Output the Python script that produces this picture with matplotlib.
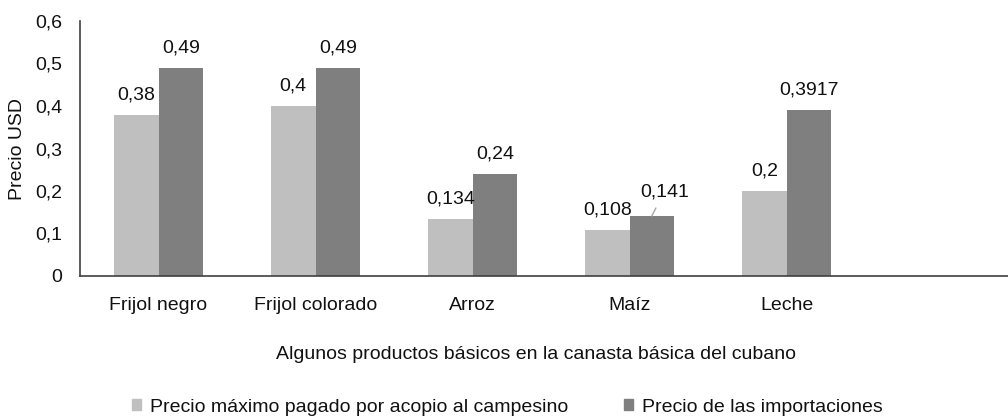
import matplotlib
matplotlib.use("Agg")
import matplotlib.pyplot as plt
import numpy as np
from matplotlib.patches import Patch

plt.rcParams['font.family'] = ['Liberation Sans', 'DejaVu Sans']

categories = ["Frijol negro", "Frijol colorado", "Arroz", "Maíz", "Leche", ""]
acopio = [0.38, 0.40, 0.134, 0.108, 0.20]
importaciones = [0.49, 0.49, 0.24, 0.141, 0.3917]
acopio_labels = ["0,38", "0,4", "0,134", "0,108", "0,2"]
import_labels = ["0,49", "0,49", "0,24", "0,141", "0,3917"]
yticks = [0, 0.1, 0.2, 0.3, 0.4, 0.5, 0.6]
ytick_labels = ["0", "0,1", "0,2", "0,3", "0,4", "0,5", "0,6"]
series_names = ["Precio máximo pagado por acopio al campesino", "Precio de las importaciones"]

c_light = "#bfbfbf"
c_dark = "#7f7f7f"
txt = "#111111"
fs = 14

W, H = 1008, 417
fig = plt.figure(figsize=(W / 100, H / 100), dpi=100)
ax_h = (276 - 21) / H
ax = fig.add_axes([80 / W, (H - 276) / H, (W - 80) / W, ax_h])

bw = 44.5 / 157
x = np.arange(len(acopio))
b1 = ax.bar(x - bw / 2, acopio, bw, color=c_light, edgecolor='none')
b2 = ax.bar(x + bw / 2, importaciones, bw, color=c_dark, edgecolor='none')

ax.bar_label(b1, labels=acopio_labels, padding=8, fontsize=fs, color=txt)
lbl2 = [l if i != 3 else "" for i, l in enumerate(import_labels)]
ax.bar_label(b2, labels=lbl2, padding=8, fontsize=fs, color=txt)
ax.annotate(import_labels[3], xy=(x[3] + bw / 2, importaciones[3]),
            xytext=(9, 17.5), textcoords='offset points', ha='center', va='center',
            fontsize=fs, color=txt,
            arrowprops=dict(arrowstyle='-', color='#a6a6a6', lw=1, shrinkA=4, shrinkB=0))

ax.set_xlim(-0.5, (W - 80) / 157 - 0.5)
ax.set_ylim(0, 0.6)
ax.set_xticks(np.arange(len(categories)))
ax.set_xticklabels(categories, fontsize=fs, color=txt)
ax.set_yticks(yticks)
ax.set_yticklabels(ytick_labels, fontsize=fs, color=txt)
ax.tick_params(axis='both', length=0)
ax.tick_params(axis='x', pad=15)
ax.tick_params(axis='y', pad=13)
for s in ['top', 'right']:
    ax.spines[s].set_visible(False)
for s in ['left', 'bottom']:
    ax.spines[s].set_color('#404040')
    ax.spines[s].set_linewidth(1.2)

ax.set_ylabel("Precio USD", fontsize=fs, labelpad=6, color=txt)
ax.set_xlabel("Algunos productos básicos en la canasta básica del cubano", fontsize=fs, color=txt)
ax.xaxis.set_label_coords((536 - 80) / (W - 80), -(346 - 276) / 255)

handles = [Patch(color=c_light), Patch(color=c_dark)]
fig.legend(handles, series_names, loc='center left', bbox_to_anchor=(132 / W, (H - 407) / H),
           ncol=2, frameon=False, fontsize=fs, handlelength=0.45, handleheight=0.45,
           handletextpad=0.45, columnspacing=2.9, borderpad=0, borderaxespad=0,
           labelcolor=txt)

fig.savefig("out.png", dpi=100)
